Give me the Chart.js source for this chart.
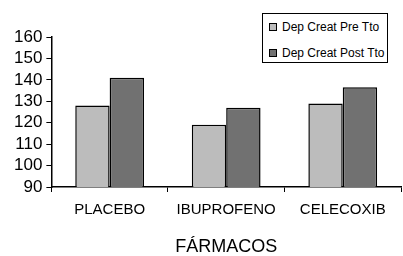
<!DOCTYPE html>
<html><head><meta charset="utf-8">
<script src="https://cdn.jsdelivr.net/npm/chart.js@4/dist/chart.umd.min.js"></script>
<style>
html,body{margin:0;padding:0;background:#fff;}
#wrap{position:relative;width:403px;height:256px;}
#legend{position:absolute;left:262px;top:13px;width:124px;height:48px;border:1px solid #000;background:#fff;font-family:"Liberation Sans",Arial,sans-serif;font-size:12px;color:#000;box-sizing:content-box;}
.item{position:absolute;left:6px;height:14px;line-height:14px;white-space:nowrap;}
.sw{display:inline-block;width:6px;height:6px;border:1px solid #000;vertical-align:middle;margin-right:5px;position:relative;top:-1px;}
</style></head>
<body><div id="wrap"><canvas id="c" width="403" height="256"></canvas><div id="legend"></div></div>
<script>
const categories = ["PLACEBO", "IBUPROFENO", "CELECOXIB"];
const seriesNames = ["Dep Creat Pre Tto", "Dep Creat Post Tto"];
const preValues = [128, 119, 129];
const postValues = [141, 127, 136.5];
const yTicks = [90, 100, 110, 120, 130, 140, 150, 160];
const colors = ["#bcbcbc", "#717171"];

const leg = document.getElementById('legend');
seriesNames.forEach((n, i) => {
  const d = document.createElement('div');
  d.className = 'item';
  d.style.top = (6 + i * 26) + 'px';
  d.innerHTML = '<span class="sw" style="background:' + colors[i] + '"></span>' + n;
  leg.appendChild(d);
});

new Chart(document.getElementById('c'), {
  type: 'bar',
  data: {
    labels: categories,
    datasets: [
      {label: seriesNames[0], data: preValues, backgroundColor: colors[0], borderColor: '#000', borderWidth: 1.5, categoryPercentage: 0.59, barPercentage: 1},
      {label: seriesNames[1], data: postValues, backgroundColor: colors[1], borderColor: '#000', borderWidth: 1.5, categoryPercentage: 0.59, barPercentage: 1}
    ]
  },
  options: {
    responsive: false,
    animation: false,
    layout: {padding: {left: 10, right: 2, top: 37, bottom: 0}},
    plugins: {legend: {display: false}, tooltip: {enabled: false}},
    scales: {
      x: {
        grid: {display: true, drawOnChartArea: false, drawTicks: true, tickLength: 5, color: '#000', offset: true},
        border: {display: true, color: '#000', width: 1.5},
        ticks: {color: '#000', padding: 9, font: {family: '"Liberation Sans", Arial, sans-serif', size: 15}, maxRotation: 0},
        title: {display: true, text: 'FÁRMACOS', color: '#000', padding: {top: 10, bottom: 0}, font: {family: '"Liberation Sans", Arial, sans-serif', size: 18, lineHeight: 1}}
      },
      y: {
        min: 90, max: 160,
        afterBuildTicks: (s) => { s.ticks = yTicks.map(v => ({value: v})); },
        grid: {display: true, drawOnChartArea: false, drawTicks: true, tickLength: 5, color: '#000'},
        border: {display: true, color: '#000', width: 1.5},
        ticks: {color: '#000', padding: 4, autoSkip: false, font: {family: '"Liberation Sans", Arial, sans-serif', size: 17, lineHeight: 1}}
      }
    }
  }
});
</script></body></html>
